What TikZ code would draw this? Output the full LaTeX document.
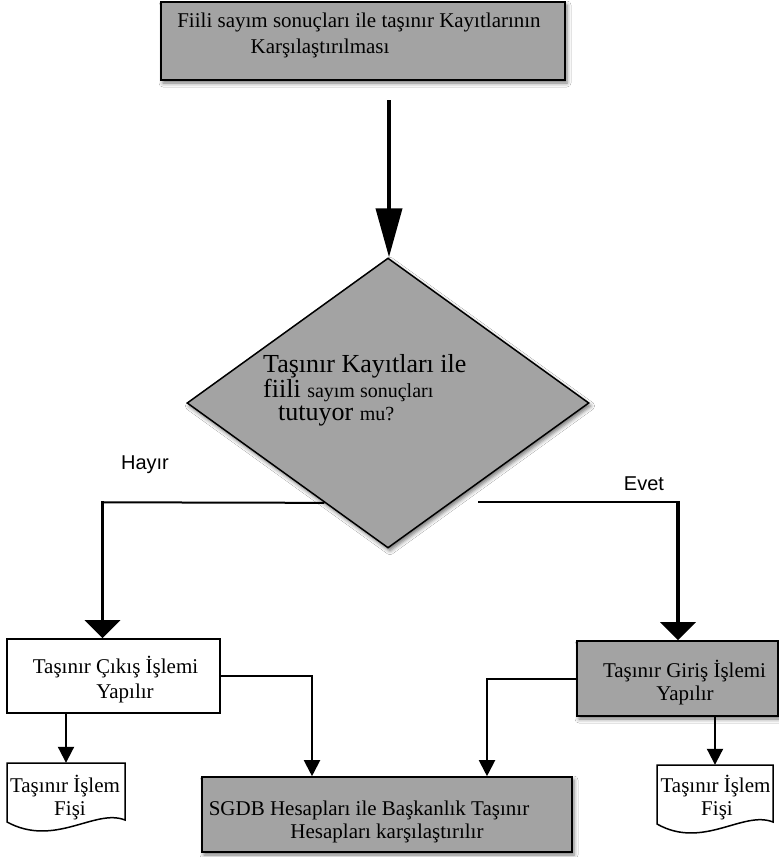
\documentclass[tikz,border=0pt]{standalone}
\usepackage{fontspec}
\setmainfont{Liberation Serif}
\newfontfamily\lsans{Liberation Sans}
\usetikzlibrary{arrows.meta,shapes.geometric,shadows.blur,calc}
\definecolor{boxgray}{RGB}{163,163,163}
\begin{document}
\begin{tikzpicture}[x=1pt,y=-1pt,
  txt/.style={font=\fontsize{21}{25}\selectfont, inner sep=0pt},
  softshadow/.style={blur shadow={shadow xshift=2pt, shadow yshift=-3pt, shadow blur radius=4pt, shadow opacity=55}},
  gbox/.style={draw=black, line width=1.6pt, fill=boxgray, inner sep=0pt, softshadow},
  wbox/.style={draw=black, line width=1.6pt, fill=white, inner sep=0pt},
  docline/.style={draw=black, line width=1.5pt, fill=white},
  toparrow/.style={line width=4pt, -{Triangle[width=26pt,length=49pt]}},
  thickarrow/.style={line width=3.5pt, -{Triangle[width=35pt,length=18pt]}},
  thinarrow/.style={line width=2pt, -{Triangle[width=16pt,length=16pt]}},
  hline/.style={line width=2pt},
  lbl/.style={font=\lsans\fontsize{20}{20}\selectfont, inner sep=0pt}
]
\useasboundingbox (0,0) rectangle (779,857);
\fill[white] (0,0) rectangle (779,857);

% top box
\node[gbox, minimum width=404pt, minimum height=78pt] (top) at (363,41) {};
\node[txt, anchor=base] (t1) at (359,27) {Fiili sayım sonuçları ile taşınır Kayıtlarının};
\node[txt, anchor=base] (t2) at (320,53) {Karşılaştırılması};

% decision
\node[shape=diamond, draw=black, line width=1.5pt, fill=boxgray, inner sep=0pt,
      minimum width=402pt, minimum height=290pt, softshadow] (dia) at (388,403) {};
\node[anchor=base west, inner sep=0pt, font=\fontsize{26}{26}\selectfont] (q1) at (263,372) {Taşınır Kayıtları ile};
\node[anchor=base west, inner sep=0pt] (q2) at (263,397) {\fontsize{26}{26}\selectfont fiili \fontsize{20}{20}\selectfont sayım sonuçları};
\node[anchor=base west, inner sep=0pt] (q3) at (278,420) {\fontsize{26}{26}\selectfont tutuyor \fontsize{20}{20}\selectfont mu?};

% labels
\node[lbl] (hayir) at (145,465) {Hayır};
\node[lbl] (evet) at (644,484) {Evet};

% process boxes
\node[wbox, minimum width=213pt, minimum height=74pt] (cikis) at (113.5,676) {};
\node[txt, anchor=base] (c1) at (115.5,673) {Taşınır Çıkış İşlemi};
\node[txt, anchor=base] (c2) at (125,698) {Yapılır};

\node[gbox, minimum width=201pt, minimum height=75pt] (giris) at (677.5,678.5) {};
\node[txt, anchor=base] (g1) at (684.5,677) {Taşınır Giriş İşlemi};
\node[txt, anchor=base] (g2) at (685,700) {Yapılır};

\node[gbox, minimum width=370pt, minimum height=75pt] (sgdb) at (387,814.5) {};
\node[txt, anchor=base] (s1) at (369,815) {SGDB Hesapları ile Başkanlık Taşınır};
\node[txt, anchor=base] (s2) at (387,838) {Hesapları karşılaştırılır};

% documents
\node[minimum width=118pt, minimum height=58pt, inner sep=0pt] (docL) at (66,792) {};
\draw[docline] (7,763) -- (125,763) -- (125,820) .. controls (95,808) and (55,848) .. (7,822) -- cycle;
\node[txt, anchor=base] (d1) at (65,792) {Taşınır İşlem};
\node[txt, anchor=base] (d2) at (70,815) {Fişi};

\node[minimum width=116pt, minimum height=58pt, inner sep=0pt] (docR) at (715,794) {};
\draw[docline] (657,765) -- (773,765) -- (773,822) .. controls (743,810) and (703,850) .. (657,824) -- cycle;
\node[txt, anchor=base] (e1) at (715.5,792) {Taşınır İşlem};
\node[txt, anchor=base] (e2) at (717,815) {Fişi};

% connectors
\coordinate (a0) at (389,100);
\draw[toparrow] (a0) -- (a0 |- dia.north);

\coordinate (le) at ($(dia.west)!0.685!(dia.south)$);
\coordinate (hl) at (102.5,502.3);
\draw[hline] (le) -- (hl);
\draw[thickarrow] ($(hl)+(0,-1)$) -- (hl |- cikis.north);

\coordinate (rs) at (478,502.3);
\coordinate (hr) at (678,502.3);
\draw[hline] (rs) -- (hr);
\draw[thickarrow] ($(hr)+(0,-1)$) -- (hr |- giris.north);

\draw[thinarrow] (cikis.east) -| ($(sgdb.north)+(-75,0)$);
\draw[thinarrow] (giris.west) -| ($(sgdb.north)+(100,0)$);
\draw[thinarrow] (docL.north |- cikis.south) -- (docL.north);
\draw[thinarrow] (docR.north |- giris.south) -- (docR.north);
\end{tikzpicture}
\end{document}
